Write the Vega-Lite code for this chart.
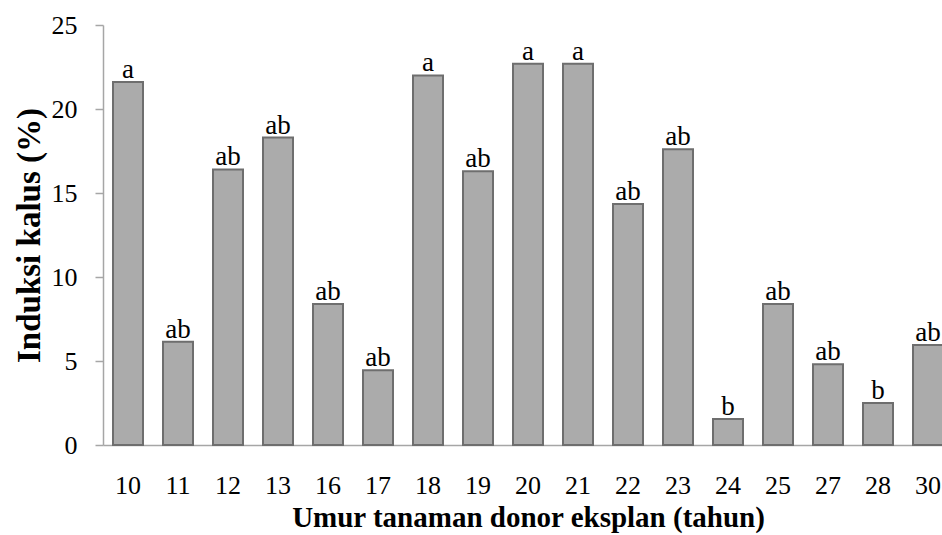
{
  "$schema": "https://vega.github.io/schema/vega-lite/v6.json",
  "autosize": "none",
  "width": 839,
  "height": 420,
  "padding": {"left": 103, "top": 25, "right": 0, "bottom": 90},
  "background": "white",
  "config": {
    "view": {"stroke": null},
    "font": "Liberation Serif",
    "axis": {"labelFont": "Liberation Serif", "titleFont": "Liberation Serif", "labelFontSize": 26, "titleFontSize": 29, "labelColor": "black", "titleColor": "black", "grid": false, "domainColor": "#a6a6a6", "tickColor": "#a6a6a6", "domainWidth": 1.5, "tickWidth": 1.5}
  },
  "data": {"values": [
    {"umur": "10", "induksi": 21.6, "notasi": "a"},
    {"umur": "11", "induksi": 6.15, "notasi": "ab"},
    {"umur": "12", "induksi": 16.4, "notasi": "ab"},
    {"umur": "13", "induksi": 18.3, "notasi": "ab"},
    {"umur": "16", "induksi": 8.4, "notasi": "ab"},
    {"umur": "17", "induksi": 4.45, "notasi": "ab"},
    {"umur": "18", "induksi": 22.0, "notasi": "a"},
    {"umur": "19", "induksi": 16.3, "notasi": "ab"},
    {"umur": "20", "induksi": 22.7, "notasi": "a"},
    {"umur": "21", "induksi": 22.7, "notasi": "a"},
    {"umur": "22", "induksi": 14.35, "notasi": "ab"},
    {"umur": "23", "induksi": 17.6, "notasi": "ab"},
    {"umur": "24", "induksi": 1.55, "notasi": "b"},
    {"umur": "25", "induksi": 8.4, "notasi": "ab"},
    {"umur": "27", "induksi": 4.8, "notasi": "ab"},
    {"umur": "28", "induksi": 2.5, "notasi": "b"},
    {"umur": "30", "induksi": 5.95, "notasi": "ab"}
  ]},
  "encoding": {
    "x": {"field": "umur", "type": "nominal", "sort": null,
      "scale": {"range": [0, 850], "paddingInner": 0.4, "paddingOuter": 0.2},
      "axis": {"title": "Umur tanaman donor eksplan (tahun)", "labelAngle": 0, "ticks": false, "labelPadding": 27, "titlePadding": 5}},
    "y": {"field": "induksi", "type": "quantitative",
      "scale": {"domain": [0, 25], "nice": false},
      "axis": {"title": "Induksi kalus (%)", "titleFontSize": 33, "values": [0, 5, 10, 15, 20, 25], "tickSize": 8, "labelPadding": 18, "titlePadding": 5}}
  },
  "layer": [
    {"mark": {"type": "bar", "fill": "#ababab", "stroke": "#6e6e6e", "strokeWidth": 2}},
    {"mark": {"type": "text", "baseline": "alphabetic", "dy": -4, "fontSize": 27, "font": "Liberation Serif", "color": "black"},
     "encoding": {"text": {"field": "notasi"}}}
  ]
}
